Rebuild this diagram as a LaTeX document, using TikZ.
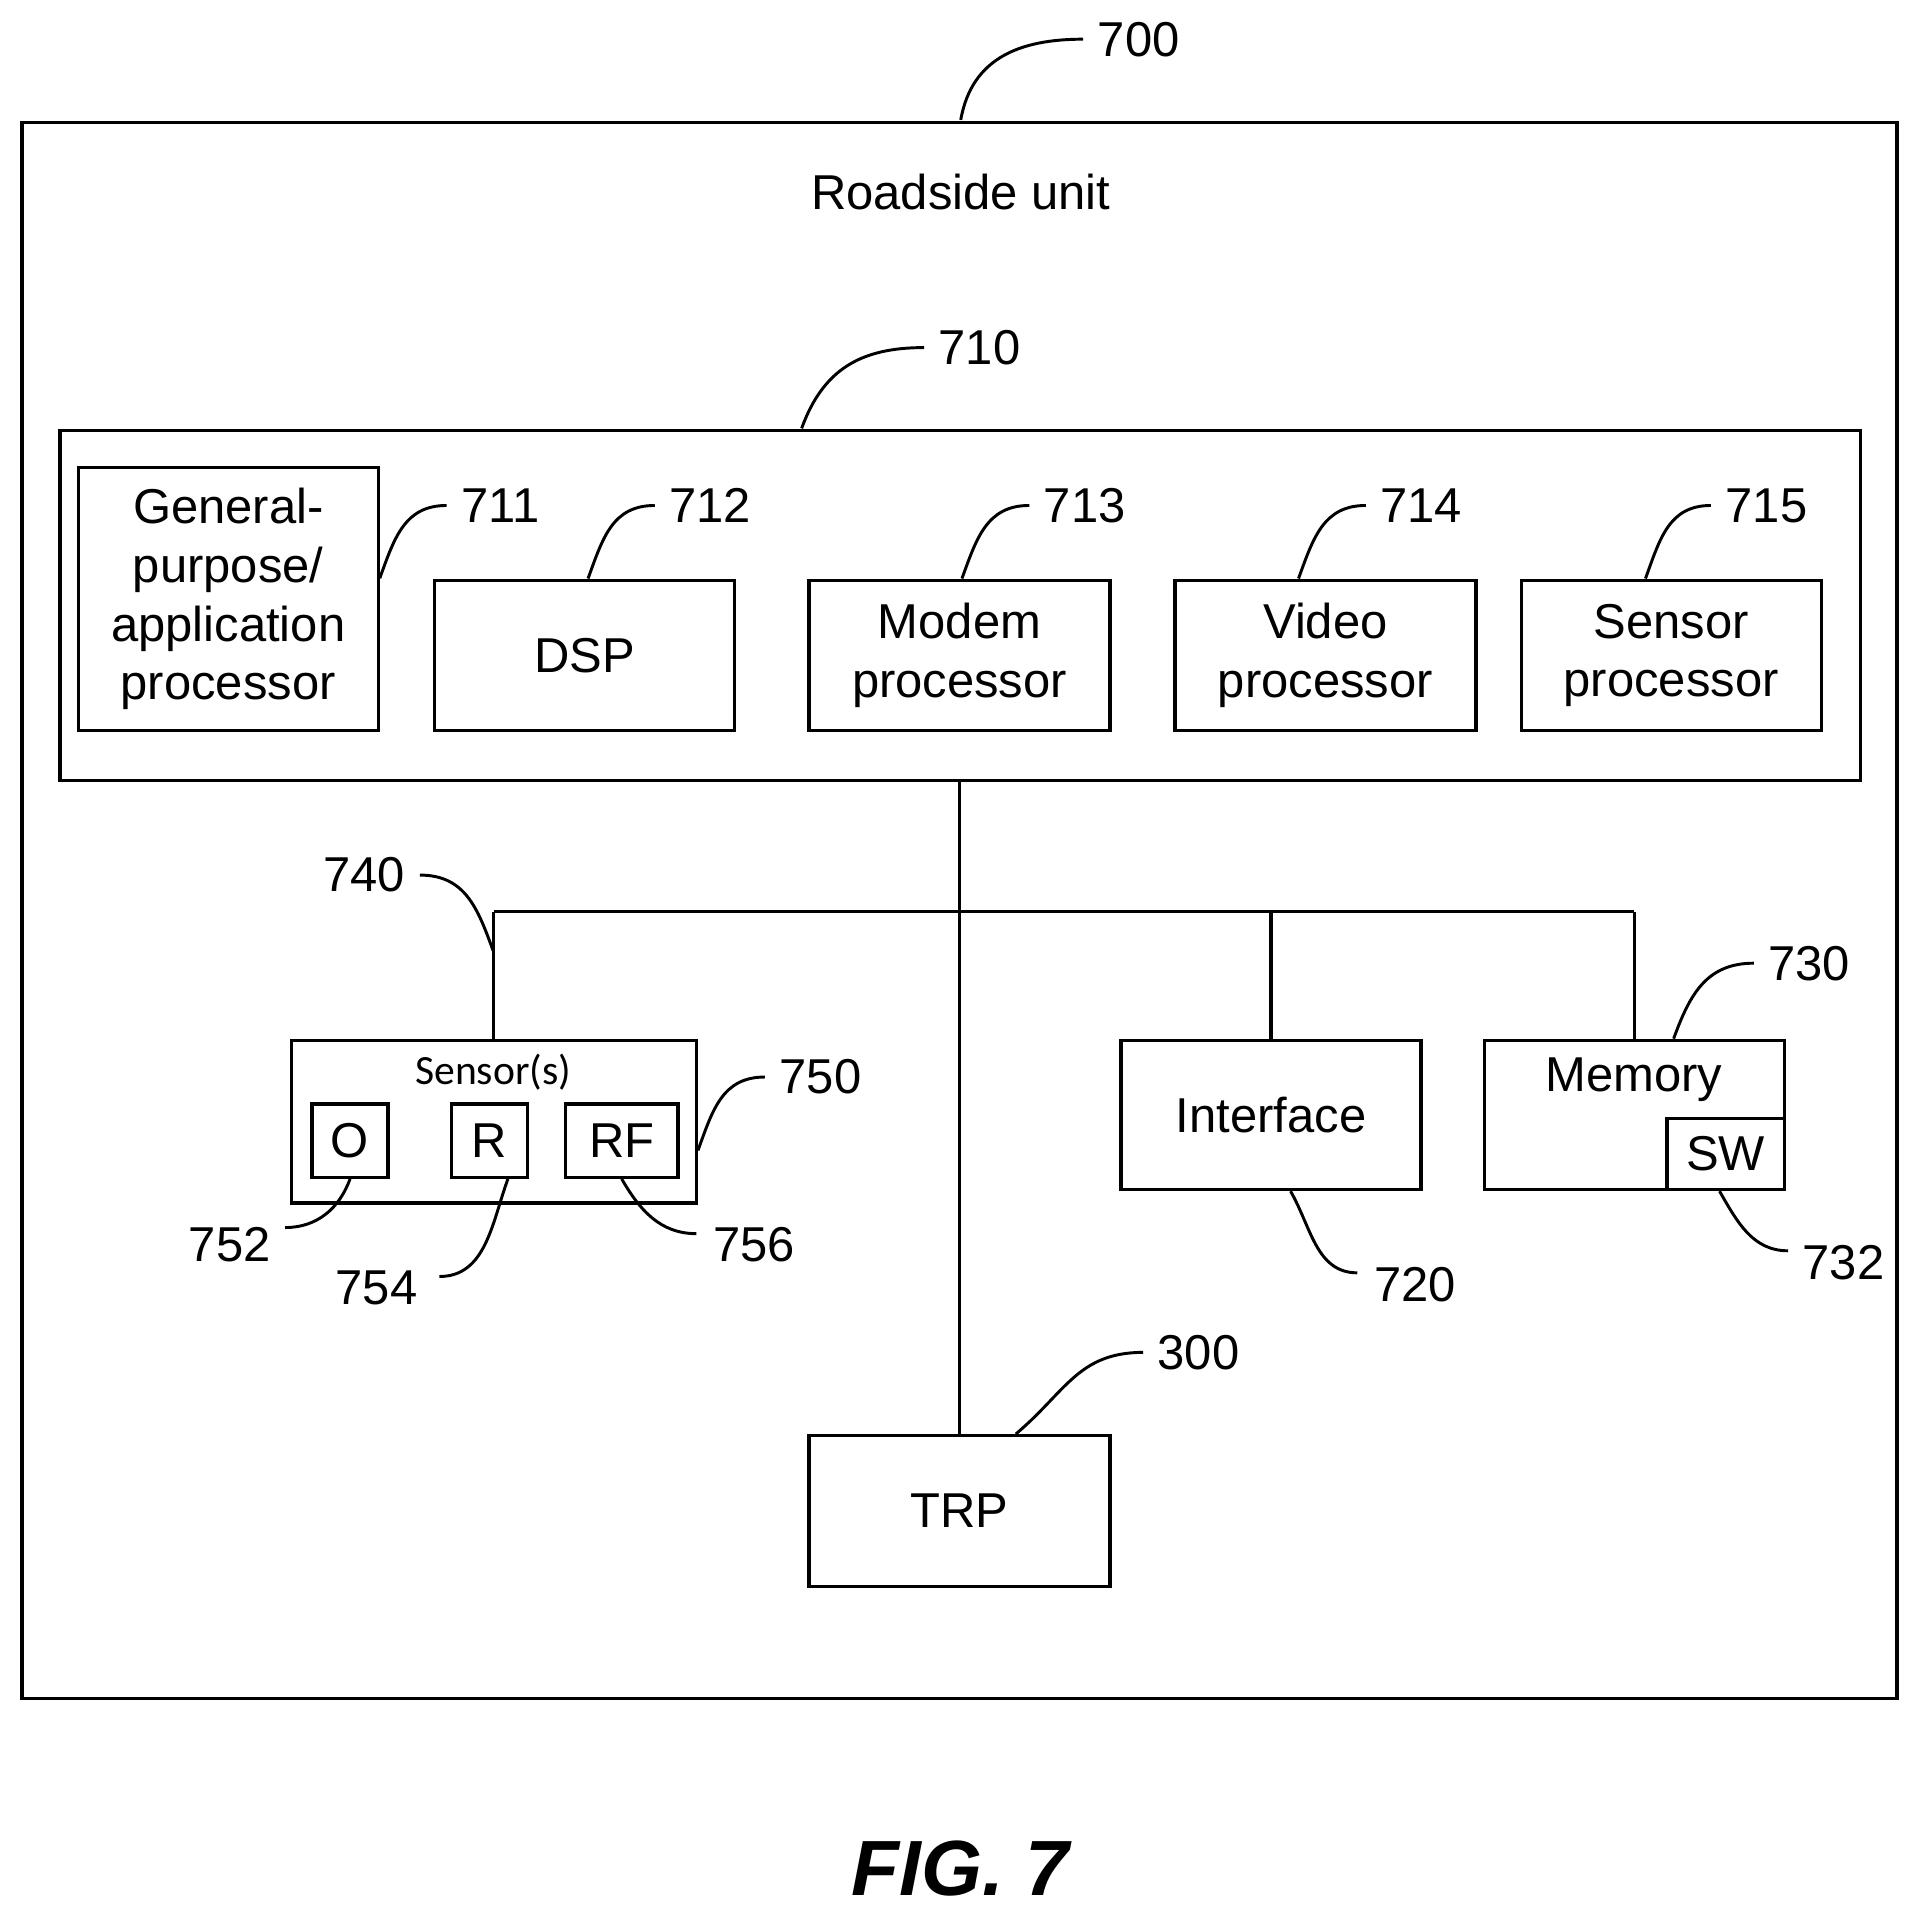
\documentclass[tikz,border=0pt]{standalone}
\usepackage{fontspec}
\setmainfont{Liberation Sans}
\newfontfamily\carlito{Carlito}
\usetikzlibrary{positioning}
\usetikzlibrary{calc}
\tikzset{
  blk/.style={draw,line width=1.3pt,inner sep=0pt,align=center,font=\fontsize{20}{24}\selectfont},
  num/.style={anchor=west,inner sep=2pt,outer sep=4pt,font=\fontsize{20}{24}\selectfont},
  lead/.style={line width=1.2pt,out=#1,in=180,looseness=1.1},
  lead/.default=70,
  bus/.style={line width=1.3pt},
}
\newcommand{\blkbox}[3]{\node[blk,minimum width=#2*0.5pt,minimum height=#3*0.5pt] (#1)}

\begin{document}
\begin{tikzpicture}[x=0.5pt,y=-0.5pt]
  \useasboundingbox (0,0) rectangle (1568,1565);
  % outer unit
  \node[draw,line width=1.3pt,minimum width=766pt,minimum height=644pt,inner sep=0pt] (RSU) at (784,744) {};
  \node[font=\fontsize{20}{24}\selectfont] (title) at (785,157) {Roadside unit};
  \node[num] (n700) at (885,32) {700};
  \draw[lead=80] (785,98) coordinate (c700) to (n700.west);

  % processor group
  \node[draw,line width=1.3pt,minimum width=735.5pt,minimum height=143pt,inner sep=0pt] (P) at (784.5,495) {};
  \node[num] (n710) at (755,284) {710};
  \draw[lead] (655,350) coordinate (c710) to (n710.west);

  \blkbox{GP}{245}{215} at (186.5,489.5) {General-\\purpose/\\application\\processor};
  \blkbox{DSP}{245}{123} at (477.5,535.5) {DSP};
  \blkbox{MP}{246}{123} at (784,535.5) {Modem\\processor};
  \blkbox{VP}{246}{123} at (1083,535.5) {Video\\processor};
  \blkbox{SP}{245}{123} at (1365.5,535.5) {Sensor\\processor};
  \node[num] (n711) at (365,413) {711};
  \node[num] (n712) at (535,413) {712};
  \node[num] (n713) at (841,413) {713};
  \node[num] (n714) at (1116,413) {714};
  \node[num] (n715) at (1398,413) {715};
  \draw[lead] ($(GP.east)+(0,-17)$) to (n711.west);
  \draw[lead] ($(DSP.north)+(3,0)$) to (n712.west);
  \draw[lead] ($(MP.north)+(2,0)$) to (n713.west);
  \draw[lead] ($(VP.north)+(-22,0)$) to (n714.west);
  \draw[lead] ($(SP.north)+(-21,0)$) to (n715.west);

  % lower blocks
  \node[draw,line width=1.3pt,minimum width=165.5pt,minimum height=66.5pt,inner sep=0pt] (S) at (403.5,916.5) {};
  \node[font=\carlito\fontsize{17}{20}\selectfont] (Slbl) at (403,876) {Sensor(s)};
  \blkbox{O}{62}{60} at (286,932) {O};
  \blkbox{R}{62}{60} at (400,932) {R};
  \blkbox{RF}{92}{60} at (508,932) {RF};
  \blkbox{IF}{245}{122} at (1038.5,911) {Interface};
  \node[draw,line width=1.3pt,minimum width=122.5pt,minimum height=61pt,inner sep=0pt] (M) at (1335.5,911) {};
  \node[font=\fontsize{20}{24}\selectfont] (Mlbl) at (1335,882) {Memory};
  \blkbox{SW}{96}{58} at (1410,943) {SW};
  \blkbox{TRP}{246}{123} at (784,1234.5) {TRP};

  % bus
  \coordinate (J) at (784,745);
  \draw[bus] (P.south -| J) -- (TRP.north);
  \draw[bus] (S.north |- J) -- (M.north |- J);
  \draw[bus] (S.north |- J) -- (S.north);
  \draw[bus] (IF.north |- J) -- (IF.north);
  \draw[bus] (M.north |- J) -- (M.north);

  % reference numerals
  \node[num,anchor=east] (n740) at (343,715) {740};
  \draw[line width=1.2pt] (403,777) coordinate (c740) to[out=110,in=0,looseness=1.1] (n740.east);
  \node[num] (n750) at (625,880) {750};
  \draw[lead] (S.east |- 0,940) to (n750.west);
  \node[num,anchor=east] (n752) at (233,1017) {752};
  \draw[line width=1.2pt] (O.south) to[out=-110,in=0] ($(n752.east)+(0,-14)$);
  \node[num,anchor=east] (n754) at (353,1052) {754};
  \draw[line width=1.2pt] ($(R.south)+(15,0)$) to[out=-110,in=0] ($(n754.east)+(6,-9)$);
  \node[num] (n756) at (571,1017) {756};
  \draw[line width=1.2pt] (RF.south) to[out=-60,in=180] ($(n756.west)+(-2,-9)$);
  \node[num] (n720) at (1111,1050) {720};
  \draw[line width=1.2pt] ($(IF.south)+(16,0)$) to[out=-60,in=180] ($(n720.west)+(-2,-10)$);
  \node[num] (n730) at (1433,787) {730};
  \draw[lead] ($(M.north)+(32,0)$) to (n730.west);
  \node[num] (n732) at (1461,1032) {732};
  \draw[line width=1.2pt] ($(SW.south)+(-5,0)$) to[out=-60,in=180] ($(n732.west)+(0,-10)$);
  \node[num] (n300) at (934,1105) {300};
  \draw[lead=40] ($(TRP.north)+(46,0)$) to (n300.west);

  \node[font=\bfseries\itshape\fontsize{32}{36}\selectfont] (fig) at (785,1527) {FIG. 7};
\end{tikzpicture}
\end{document}
